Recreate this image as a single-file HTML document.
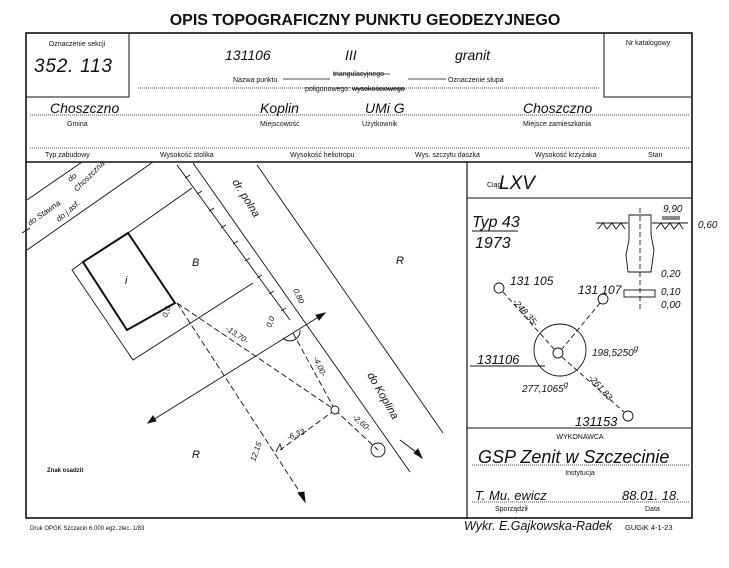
<!DOCTYPE html>
<html><head><meta charset="utf-8"><style>
html,body{margin:0;padding:0;background:#fff;}
svg{display:block;}
text{font-family:"Liberation Sans",sans-serif;fill:#111;}
.s{font-size:7px;}
.h{font-style:italic;font-size:14px;}
</style></head><body>
<svg width="729" height="568" viewBox="0 0 729 568" xmlns="http://www.w3.org/2000/svg">
<rect width="729" height="568" fill="#fff"/>
<text x="365" y="25" text-anchor="middle" font-size="16" font-weight="bold">OPIS TOPOGRAFICZNY PUNKTU GEODEZYJNEGO</text>
<g fill="none" stroke="#111">
<rect x="26" y="33" width="666" height="485" stroke-width="1.6"/>
<rect x="26" y="33" width="103" height="64" stroke-width="1"/>
<rect x="604" y="33" width="88" height="64" stroke-width="1"/>
<line x1="138" y1="88" x2="600" y2="88" stroke-dasharray="1,1" stroke-width="0.8"/>
<line x1="283" y1="79" x2="330" y2="79" stroke-width="0.8"/>
<line x1="408" y1="79" x2="446" y2="79" stroke-width="0.8"/>
<line x1="30" y1="115" x2="690" y2="115" stroke-dasharray="1,1" stroke-width="0.8"/>
<line x1="30" y1="148" x2="690" y2="148" stroke-dasharray="1,1" stroke-width="0.8"/>
<line x1="26" y1="162" x2="692" y2="162" stroke-width="1.4"/>
<line x1="467" y1="162" x2="467" y2="518" stroke-width="1.2"/>
<line x1="467" y1="198" x2="692" y2="198" stroke-width="1"/>
<line x1="467" y1="428" x2="692" y2="428" stroke-width="1"/>
<line x1="472" y1="465" x2="690" y2="465" stroke-dasharray="1,1" stroke-width="0.8"/>
<line x1="472" y1="502" x2="690" y2="502" stroke-dasharray="1,1" stroke-width="0.8"/>
</g>
<text x="77" y="46" class="s" text-anchor="middle">Oznaczenie sekcji</text>
<text x="34" y="72" font-size="19" font-style="italic" textLength="78">352. 113</text>
<text x="648" y="45" class="s" text-anchor="middle">Nr katalogowy</text>
<text x="225" y="60" class="h" font-size="16">131106</text>
<text x="345" y="60" class="h" font-size="16">III</text>
<text x="455" y="60" class="h" font-size="17">granit</text>
<text x="233" y="82" class="s">Nazwa punktu</text>
<text x="333" y="76" class="s">triangulacyjnego</text>
<line x1="333" y1="74" x2="390" y2="74" stroke="#111" stroke-width="0.8"/>
<text x="305" y="91" class="s">poligonowego: wysokościowego</text>
<line x1="352" y1="89" x2="405" y2="89" stroke="#111" stroke-width="0.8"/>
<text x="448" y="82" class="s">Oznaczenie słupa</text>
<text x="50" y="113" class="h">Choszczno</text>
<text x="260" y="113" class="h">Koplin</text>
<text x="365" y="113" class="h">UMi G</text>
<text x="523" y="113" class="h">Choszczno</text>
<text x="67" y="126" class="s">Gmina</text>
<text x="260" y="126" class="s">Miejscowość</text>
<text x="362" y="126" class="s">Użytkownik</text>
<text x="523" y="126" class="s">Miejsce zamieszkania</text>
<text x="45" y="157" class="s">Typ zabudowy</text>
<text x="160" y="157" class="s">Wysokość stolika</text>
<text x="290" y="157" class="s">Wysokość heliotropu</text>
<text x="415" y="157" class="s">Wys. szczytu daszka</text>
<text x="535" y="157" class="s">Wysokość krzyżaka</text>
<text x="648" y="157" class="s">Stan</text>

<!-- map -->
<g fill="none" stroke="#111" stroke-width="0.9">
<line x1="27" y1="200" x2="82" y2="162"/>
<line x1="27" y1="250" x2="153" y2="162"/>
<line x1="22" y1="233" x2="30" y2="228"/>
<line x1="177" y1="165" x2="290" y2="320"/>
<line x1="193" y1="163" x2="410" y2="472"/>
<line x1="257" y1="165" x2="443" y2="433"/>
<g stroke-width="0.8">
<line x1="185" y1="178" x2="190" y2="175"/><line x1="197" y1="194" x2="202" y2="191"/><line x1="209" y1="211" x2="214" y2="208"/><line x1="221" y1="228" x2="226" y2="225"/><line x1="233" y1="244" x2="238" y2="241"/><line x1="245" y1="261" x2="250" y2="258"/><line x1="257" y1="278" x2="262" y2="275"/><line x1="269" y1="294" x2="274" y2="291"/><line x1="281" y1="311" x2="286" y2="308"/>
</g>
<polyline points="83,262 72,270 133,360 253,283"/>
<line x1="128" y1="233" x2="192" y2="188"/>
<polygon points="83,262 128,233 175,303 127,330" stroke-width="2"/>
<line x1="148" y1="423" x2="325" y2="313"/>
<polygon points="325,313 316,315 319,320" fill="#111"/>
<polygon points="148,423 156,421 153,416" fill="#111"/>
<g stroke-dasharray="6,3">
<line x1="177" y1="303" x2="305" y2="500"/>
<line x1="177" y1="303" x2="335" y2="410"/>
<line x1="293" y1="333" x2="335" y2="410"/>
<line x1="335" y1="410" x2="378" y2="450"/>
<line x1="335" y1="410" x2="280" y2="450"/>
</g>
<polygon points="305,502 298,493 304,492" fill="#111"/>
<circle cx="335" cy="410" r="4" fill="#fff"/>
<circle cx="378" cy="450" r="7"/>
<line x1="400" y1="440" x2="420" y2="455"/>
<polygon points="422,458 414,453 418,449" fill="#111"/>
<path d="M283,338 A10,10 0 0 0 300,330"/>
<path d="M276,452 l4,-8 l2,6"/>
</g>
<text x="192" y="266" font-size="11" font-style="italic">B</text>
<text x="125" y="284" font-size="11" font-style="italic">i</text>
<text x="396" y="264" font-size="11" font-style="italic">R</text>
<text x="192" y="458" font-size="11" font-style="italic">R</text>
<text x="47" y="472" font-size="6" font-weight="bold">Znak osadzit</text>
<text transform="translate(30,226) rotate(-35)" font-size="8" font-style="italic">do Stawna</text>
<text transform="translate(70,182) rotate(-35)" font-size="8" font-style="italic">do</text>
<text transform="translate(77,192) rotate(-45)" font-size="8" font-style="italic">Choszczna</text>
<text transform="translate(59,222) rotate(-40)" font-size="8" font-style="italic">do j.asf.</text>
<text transform="translate(232,182) rotate(58)" font-size="11" font-style="italic">dr. polna</text>
<text transform="translate(367,375) rotate(60)" font-size="11" font-style="italic">do Koplina</text>
<text transform="translate(225,330) rotate(33)" font-size="8" font-style="italic">-13,70-</text>
<text transform="translate(313,358) rotate(65)" font-size="8" font-style="italic">-4,00-</text>
<text transform="translate(288,440) rotate(-20)" font-size="8" font-style="italic">-6,33-</text>
<text transform="translate(352,418) rotate(40)" font-size="8" font-style="italic">-2,60-</text>
<text transform="translate(255,462) rotate(-70)" font-size="8" font-style="italic">12,15</text>
<text transform="translate(293,290) rotate(65)" font-size="8" font-style="italic">0,80</text>
<text transform="translate(167,318) rotate(-70)" font-size="8" font-style="italic">0,0</text>
<text transform="translate(271,328) rotate(-70)" font-size="8" font-style="italic">0,0</text>

<!-- right panel -->
<text x="487" y="187" font-size="7">Ciąg:</text>
<text x="499" y="189" font-size="19" font-style="italic">LXV</text>
<text x="472" y="227" font-size="16" font-style="italic">Typ 43</text>
<line x1="472" y1="231" x2="518" y2="231" stroke="#111"/>
<text x="475" y="248" font-size="16" font-style="italic">1973</text>
<g fill="none" stroke="#111" stroke-width="0.9">
<line x1="640" y1="208" x2="640" y2="310" stroke-dasharray="5,3"/>
<line x1="596" y1="223" x2="628" y2="223"/><line x1="652" y1="223" x2="688" y2="223"/>
<path d="M598,229 l5,-6 l4,6 l5,-6 l4,6 l5,-6 l4,6 M656,229 l5,-6 l4,6 l5,-6 l4,6 l5,-6 l4,6"/>
<path d="M629,215 L651,215 L651,235 L654,250 L651,272 L628,272 L626,255 L629,240 Z"/>
<rect x="624" y="290" width="31" height="7"/>
<line x1="662" y1="217" x2="680" y2="217"/>
<line x1="662" y1="219" x2="680" y2="219"/>
<circle cx="558" cy="353" r="5"/>
<circle cx="560" cy="350" r="26"/>
<circle cx="499" cy="288" r="5"/>
<circle cx="603" cy="299" r="5"/>
<circle cx="628" cy="416" r="5"/>
<g stroke-dasharray="5,3">
<line x1="503" y1="292" x2="554" y2="349"/>
<line x1="600" y1="303" x2="562" y2="349"/>
<line x1="562" y1="357" x2="624" y2="412"/>
</g>
<line x1="470" y1="366" x2="545" y2="366"/>
</g>
<text x="663" y="212" font-size="10" font-style="italic">9,90</text>
<text x="698" y="228" font-size="10" font-style="italic">0,60</text>
<text x="661" y="277" font-size="10" font-style="italic">0,20</text>
<text x="661" y="295" font-size="10" font-style="italic">0,10</text>
<text x="661" y="308" font-size="10" font-style="italic">0,00</text>
<text x="510" y="285" font-size="12" font-style="italic">131 105</text>
<text x="578" y="294" font-size="12" font-style="italic">131 107</text>
<text x="477" y="364" font-size="13" font-style="italic">131106</text>
<text x="575" y="426" font-size="13" font-style="italic">131153</text>
<text x="592" y="356" font-size="10" font-style="italic">198,5250<tspan font-size="8" dy="-5">g</tspan></text>
<text x="522" y="392" font-size="10" font-style="italic">277,1065<tspan font-size="8" dy="-5">g</tspan></text>
<text transform="translate(512,302) rotate(48)" font-size="9" font-style="italic">-248,35-</text>
<text transform="translate(588,378) rotate(48)" font-size="9" font-style="italic">-261,83-</text>
<text x="580" y="439" font-size="7" text-anchor="middle">WYKONAWCA</text>
<text x="478" y="463" font-size="18" font-style="italic">GSP Zenit w  Szczecinie</text>
<text x="580" y="475" font-size="7" text-anchor="middle">Instytucja</text>
<text x="475" y="500" font-size="13" font-style="italic">T. Mu. ewicz</text>
<text x="622" y="500" font-size="13" font-style="italic">88.01. 18.</text>
<text x="495" y="511" font-size="7">Sporządził</text>
<text x="645" y="511" font-size="7">Data</text>
<text x="30" y="530" font-size="6">Druk OPGK Szczecin 6.000 egz. zlec. 1/83</text>
<text x="464" y="530" font-size="12.5" font-style="italic">Wykr. E.Gajkowska-Radek</text>
<text x="625" y="530" font-size="7.5">GUGiK 4-1-23</text>
</svg>
</body></html>
